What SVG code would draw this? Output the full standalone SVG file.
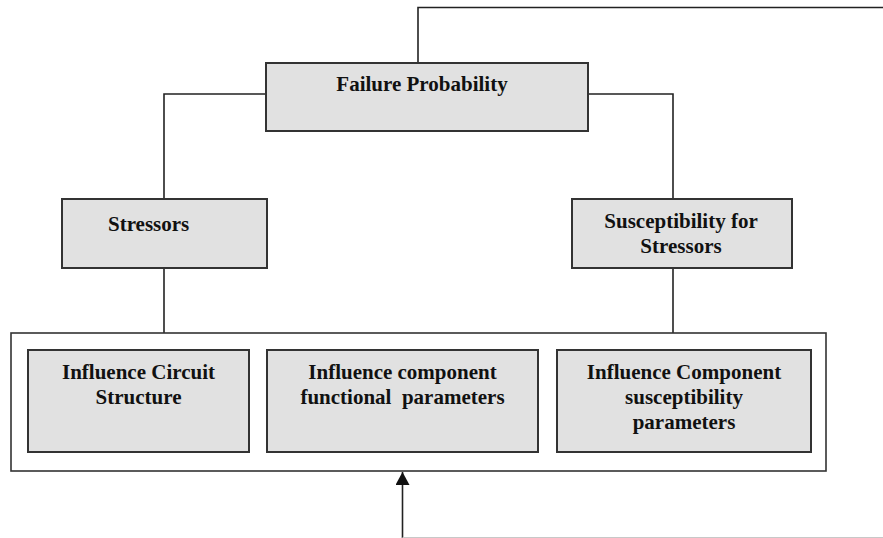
<svg xmlns="http://www.w3.org/2000/svg" width="883" height="538" viewBox="0 0 883 538">
<defs>
<style>
.box{fill:#e1e1e1;stroke:#333;stroke-width:2}
.outer{fill:#fff;stroke:#333;stroke-width:1.6}
.con{fill:none;stroke:#222;stroke-width:1.6}
.t{font-family:"Liberation Serif","Times New Roman",serif;font-weight:bold;font-size:21px;fill:#111}
.m{text-anchor:middle}
</style>
<marker id="arr" markerWidth="14" markerHeight="14" refX="13" refY="7" orient="auto" markerUnits="userSpaceOnUse">
<path d="M0,0 L13,7 L0,14 Z" fill="#111"/>
</marker>
</defs>
<rect width="883" height="538" fill="#fff"/>
<g id="connectors">
<path class="con" d="M418,63 V7.5 H883"/>
<path class="con" d="M266,94 H164 V199"/>
<path class="con" d="M588,94 H673 V199"/>
<path class="con" d="M164,268 V333"/>
<path class="con" d="M673,268 V333"/>
<path class="con" d="M402.5,538 V472" marker-end="url(#arr)"/>
<path d="M402.5,537.5 H883" fill="none" stroke="#c8c8c8" stroke-width="1"/>
</g>
<g id="failure-probability">
<rect class="box" x="266" y="63" width="322" height="68"/>
<text class="t m" x="422" y="91">Failure Probability</text>
</g>
<g id="stressors">
<rect class="box" x="62" y="199" width="205" height="69"/>
<text class="t" x="108" y="231">Stressors</text>
</g>
<g id="susceptibility">
<rect class="box" x="572" y="199" width="220" height="69"/>
<text class="t m" x="681" y="228">Susceptibility for</text>
<text class="t m" x="681" y="253">Stressors</text>
</g>
<g id="influences">
<rect class="outer" x="11" y="333" width="815" height="138"/>
</g>
<g id="influence-circuit">
<rect class="box" x="28" y="350" width="221" height="102"/>
<text class="t m" x="138.5" y="379">Influence Circuit</text>
<text class="t m" x="138.5" y="404">Structure</text>
</g>
<g id="influence-functional">
<rect class="box" x="267" y="350" width="271" height="102"/>
<text class="t m" x="402.5" y="379">Influence component</text>
<text class="t m" x="402.5" y="404" xml:space="preserve">functional  parameters</text>
</g>
<g id="influence-susceptibility">
<rect class="box" x="557" y="350" width="254" height="102"/>
<text class="t m" x="684" y="379">Influence Component</text>
<text class="t m" x="684" y="404">susceptibility</text>
<text class="t m" x="684" y="429">parameters</text>
</g>
</svg>
